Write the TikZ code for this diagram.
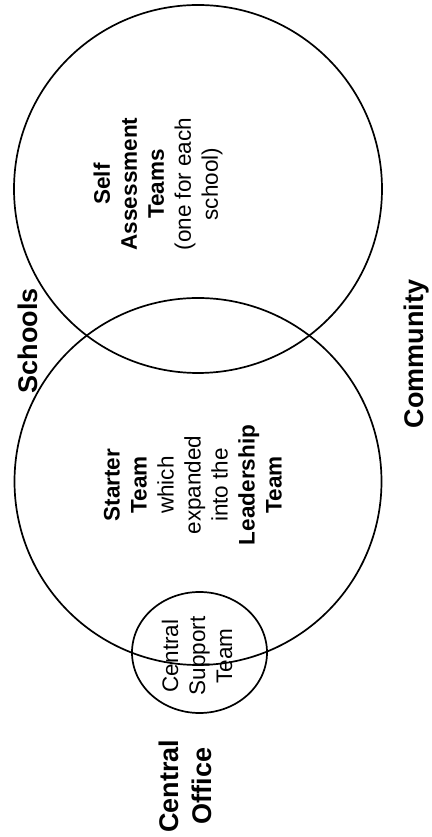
\documentclass[tikz,border=0pt]{standalone}
\usepackage{fontspec}
\setmainfont{Liberation Sans}
\usetikzlibrary{positioning, shapes.geometric}
\tikzset{ring/.style={draw, circle, line width=1.7pt, inner sep=0pt}}
\tikzset{oval/.style={draw, ellipse, line width=1.7pt, inner sep=0pt}}
\tikzset{grplabel/.style={rotate=90, inner sep=0pt, align=center, font=\bfseries\fontsize{27}{33}\selectfont}}
\tikzset{teamtext/.style={rotate=90, inner sep=0pt, align=center, font=\fontsize{22.5}{27}\selectfont}}

\begin{document}
\begin{tikzpicture}[x=1pt, y=1pt]
			\useasboundingbox (0,0) rectangle (431,837);
			\node[ring, minimum size=368pt] (selfc) at (198,648) {};
			\node[ring, minimum size=367pt] (startc) at (198,355.5) {};
			\node[oval, minimum width=135pt, minimum height=121pt] (suppc) at (199.5,184.5) {};
			\node[teamtext] (selft) at (158,653) {\textbf{Self}\\\textbf{Assessment}\\\textbf{Teams}\\(one for each\\school)};
			\node[teamtext] (startt) at (193,352) {\textbf{Starter}\\\textbf{Team}\\which\\expanded\\into the\\\textbf{Leadership}\\\textbf{Team}};
			\node[teamtext] (suppt) at (197,181) {Central\\Support\\Team};
			\node[grplabel] (schools) at (27.5,496) {Schools};
			\node[grplabel] (community) at (417,483) {Community};
			\node[grplabel] (office) at (185,51) {Central\\Office};
		\end{tikzpicture}
\end{document}
